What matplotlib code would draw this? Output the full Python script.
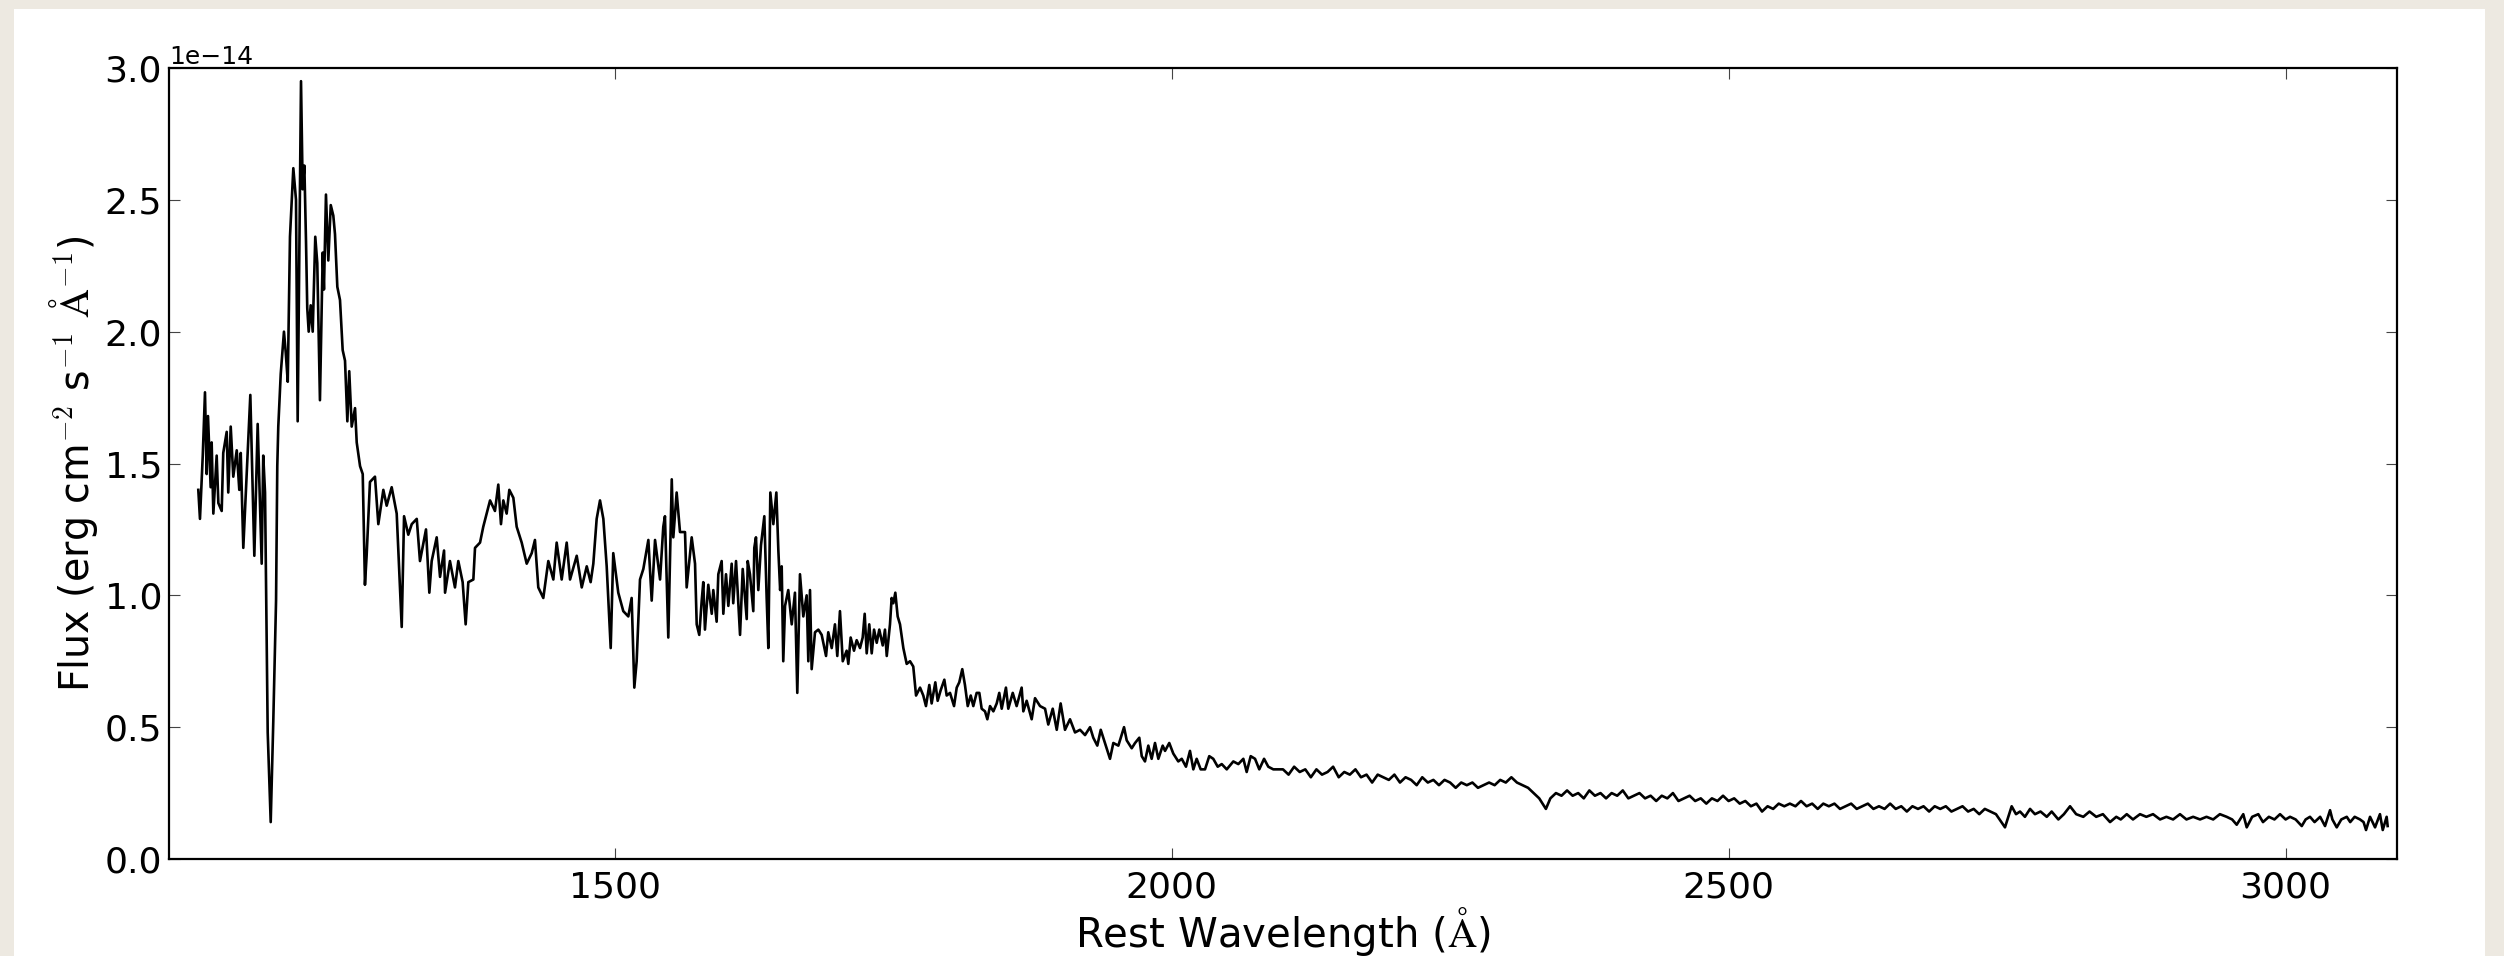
import numpy as np
import matplotlib.pyplot as plt
from matplotlib.patches import Rectangle

plt.rcParams['mathtext.fontset'] = 'cm'

# rest wavelength (Angstrom) and flux (units of 1e-14 erg/cm2/s/A)
wave = [
    1126.3, 1127.8, 1130.3, 1132.3, 1133.8, 1135.0, 1137.4, 1138.3, 1139.8, 1142.8,
    1144.3, 1147.3, 1148.7, 1151.8, 1153.2, 1155.4, 1157.7, 1160.8, 1163.1, 1164.4,
    1166.7, 1173.0, 1176.6, 1179.6, 1183.2, 1184.6, 1186.2, 1188.6, 1191.3, 1193.6,
    1196.1, 1197.2, 1198.1, 1200.3, 1203.2, 1204.8, 1206.6, 1208.6, 1211.6, 1214.0,
    1215.5, 1218.5, 1220.0, 1221.5, 1223.0, 1224.1, 1225.4, 1227.2, 1229.0, 1231.3,
    1233.1, 1235.5, 1238.0, 1239.1, 1240.9, 1243.0, 1245.2, 1247.5, 1249.0, 1251.1,
    1253.5, 1255.9, 1258.0, 1260.1, 1261.8, 1264.0, 1267.0, 1268.5, 1271.5, 1273.9,
    1275.9, 1277.4, 1280.4, 1284.9, 1287.9, 1292.4, 1295.4, 1299.9, 1304.4, 1308.9,
    1311.0, 1314.8, 1317.9, 1322.4, 1325.3, 1330.7, 1333.7, 1335.8, 1340.3, 1343.3,
    1346.9, 1347.8, 1352.2, 1356.7, 1359.7, 1363.6, 1366.3, 1368.7, 1373.2, 1374.7,
    1379.2, 1382.1, 1388.2, 1392.6, 1395.6, 1398.0, 1400.1, 1403.1, 1405.5, 1409.1,
    1412.1, 1416.6, 1421.1, 1425.6, 1428.5, 1431.5, 1436.0, 1440.5, 1445.0, 1448.0,
    1452.5, 1457.0, 1460.0, 1466.0, 1470.5, 1475.0, 1478.5, 1480.9, 1483.9, 1486.9,
    1489.9, 1492.9, 1496.5, 1498.8, 1503.3, 1507.8, 1512.3, 1515.3, 1517.7, 1519.8,
    1522.8, 1525.8, 1530.3, 1533.3, 1536.3, 1540.8, 1543.7, 1545.2, 1548.2, 1551.3,
    1552.7, 1555.7, 1558.7, 1563.2, 1564.7, 1569.2, 1572.2, 1573.7, 1576.0, 1578.2,
    1579.6, 1581.1, 1584.1, 1587.2, 1588.6, 1591.6, 1593.1, 1596.1, 1597.6, 1600.0,
    1602.1, 1605.1, 1606.5, 1609.0, 1612.6, 1615.0, 1618.6, 1619.5, 1621.5, 1624.5,
    1625.4, 1626.9, 1629.0, 1631.4, 1634.4, 1636.5, 1638.0, 1639.8, 1642.5, 1645.2,
    1647.0, 1648.6, 1650.0, 1651.4, 1653.0, 1655.9, 1659.0, 1661.9, 1664.0, 1666.4,
    1669.4, 1672.4, 1673.9, 1675.4, 1676.9, 1679.9, 1682.9, 1685.9, 1689.8, 1691.8,
    1694.9, 1697.8, 1699.9, 1702.3, 1704.8, 1708.3, 1709.8, 1711.9, 1714.9, 1717.3,
    1720.3, 1722.7, 1724.5, 1726.3, 1728.6, 1730.8, 1732.9, 1735.3, 1737.6, 1740.7,
    1742.7, 1744.3, 1747.2, 1748.7, 1750.2, 1752.0, 1754.1, 1756.2, 1759.2, 1762.2,
    1765.2, 1768.1, 1770.6, 1774.2, 1777.1, 1779.5, 1782.5, 1784.6, 1787.9, 1790.0,
    1792.7, 1796.0, 1798.1, 1801.1, 1804.7, 1807.1, 1809.4, 1812.1, 1814.5, 1817.0,
    1819.7, 1822.0, 1825.0, 1827.4, 1829.5, 1832.5, 1834.6, 1837.0, 1840.0, 1843.0,
    1845.3, 1847.5, 1851.3, 1853.4, 1857.4, 1860.9, 1865.4, 1866.9, 1869.9, 1874.4,
    1877.4, 1881.9, 1886.4, 1889.3, 1893.3, 1896.9, 1900.4, 1904.3, 1908.8, 1913.3,
    1917.8, 1922.3, 1926.8, 1929.7, 1933.3, 1936.4, 1940.2, 1944.7, 1947.7, 1952.2,
    1957.3, 1959.7, 1964.2, 1967.2, 1971.0, 1973.2, 1976.1, 1979.1, 1982.1, 1985.1,
    1988.1, 1992.0, 1994.1, 1997.9, 2001.5, 2006.0, 2009.1, 2012.9, 2016.5, 2019.5,
    2022.5, 2026.1, 2030.0, 2033.8, 2037.4, 2041.4, 2045.0, 2049.5, 2055.4, 2059.9,
    2064.4, 2067.4, 2071.0, 2074.9, 2078.7, 2083.0, 2086.8, 2091.3, 2095.5,
    2100, 2105, 2110, 2115, 2120, 2125, 2130, 2135, 2140, 2145,
    2150, 2155, 2160, 2165, 2170, 2175, 2180, 2185, 2190, 2195,
    2200, 2205, 2210, 2215, 2220, 2225, 2230, 2235, 2240, 2245,
    2250, 2255, 2260, 2265, 2270, 2275, 2280, 2285, 2290, 2295,
    2300, 2305, 2310, 2315, 2320, 2325, 2330, 2336, 2340, 2345,
    2350, 2355, 2360, 2365, 2370, 2375, 2380, 2385, 2390, 2395,
    2400, 2405, 2410, 2415, 2420, 2425, 2430, 2435, 2440, 2445,
    2450, 2455, 2460, 2465, 2470, 2475, 2480, 2485, 2490, 2495,
    2500, 2505, 2510, 2515, 2520, 2525, 2530, 2535, 2540, 2545,
    2550, 2555, 2560, 2565, 2570, 2575, 2580, 2585, 2590, 2595,
    2600, 2605, 2610, 2615, 2620, 2625, 2630, 2635, 2640, 2645,
    2650, 2655, 2660, 2665, 2670, 2675, 2680, 2685, 2690, 2695,
    2700, 2705, 2710, 2715, 2720, 2725, 2730, 2735, 2740,
    2743.6, 2748.1, 2754.1, 2758.0, 2761.6, 2766.0, 2770.6, 2775.0, 2780.0, 2785.6,
    2790.0, 2796.0, 2801.0, 2806.5, 2812.0, 2818.4, 2824.0, 2830.0, 2836.0, 2842.4,
    2848.0, 2852.0, 2857.4, 2863.0, 2869.3, 2875.0, 2881.0, 2887.3, 2893.0, 2899.0,
    2905.2, 2911.0, 2917.0, 2923.2, 2929.0, 2935.0, 2941.0, 2947.1, 2952.0, 2956.1,
    2962.0, 2965.1, 2970.0, 2975.5, 2979.7, 2985.0, 2990.0, 2995.0, 3000.0, 3004.0,
    3009.0, 3014.5, 3018.0, 3021.9, 3026.0, 3031.0, 3035.4, 3039.9, 3042.0, 3045.9,
    3050.0, 3054.9, 3058.0, 3062.0, 3066.8, 3070.0, 3072.2, 3075.8, 3078.0, 3080.3,
    3084.7, 3087.2, 3090.7, 3091.6,
]
flux = [
    1.40, 1.29, 1.53, 1.77, 1.46, 1.68, 1.41, 1.58, 1.31, 1.53,
    1.35, 1.32, 1.54, 1.62, 1.39, 1.64, 1.45, 1.55, 1.40, 1.54,
    1.18, 1.76, 1.15, 1.65, 1.12, 1.53, 1.39, 0.48, 0.14, 0.52,
    0.98, 1.49, 1.64, 1.84, 2.00, 1.92, 1.81, 2.36, 2.62, 2.50,
    1.66, 2.95, 2.54, 2.63, 2.34, 2.09, 2.00, 2.10, 2.00, 2.36,
    2.26, 1.74, 2.30, 2.16, 2.52, 2.27, 2.48, 2.44, 2.37, 2.17,
    2.12, 1.93, 1.89, 1.66, 1.85, 1.64, 1.71, 1.58, 1.49, 1.46,
    1.04, 1.15, 1.43, 1.45, 1.27, 1.40, 1.34, 1.41, 1.31, 0.88,
    1.30, 1.23, 1.27, 1.29, 1.13, 1.25, 1.01, 1.13, 1.22, 1.07,
    1.17, 1.01, 1.13, 1.03, 1.13, 1.05, 0.89, 1.05, 1.06, 1.18,
    1.20, 1.26, 1.36, 1.32, 1.42, 1.27, 1.36, 1.31, 1.40, 1.37,
    1.26, 1.20, 1.12, 1.16, 1.21, 1.03, 0.99, 1.13, 1.06, 1.20,
    1.06, 1.20, 1.06, 1.15, 1.03, 1.11, 1.05, 1.12, 1.29, 1.36,
    1.29, 1.11, 0.80, 1.16, 1.01, 0.94, 0.92, 0.99, 0.65, 0.75,
    1.06, 1.10, 1.21, 0.98, 1.21, 1.06, 1.26, 1.30, 0.84, 1.44,
    1.22, 1.39, 1.24, 1.24, 1.03, 1.22, 1.12, 0.89, 0.85, 0.98,
    1.05, 0.87, 1.04, 0.93, 1.02, 0.90, 1.08, 1.13, 0.93, 1.08,
    0.96, 1.12, 0.97, 1.13, 0.85, 1.10, 0.91, 1.13, 1.08, 0.94,
    1.18, 1.22, 1.02, 1.19, 1.30, 0.99, 0.80, 1.39, 1.27, 1.39,
    1.17, 1.02, 1.11, 0.75, 0.96, 1.02, 0.89, 1.01, 0.63, 1.08,
    0.92, 1.00, 0.75, 1.02, 0.72, 0.86, 0.87, 0.85, 0.77, 0.86,
    0.80, 0.89, 0.77, 0.94, 0.75, 0.79, 0.74, 0.84, 0.79, 0.83,
    0.80, 0.84, 0.93, 0.78, 0.89, 0.78, 0.87, 0.82, 0.87, 0.81,
    0.87, 0.77, 0.89, 0.99, 0.97, 1.01, 0.92, 0.89, 0.80, 0.74,
    0.75, 0.73, 0.62, 0.65, 0.62, 0.58, 0.66, 0.59, 0.67, 0.60,
    0.64, 0.68, 0.62, 0.63, 0.58, 0.65, 0.67, 0.72, 0.66, 0.58,
    0.62, 0.58, 0.63, 0.63, 0.57, 0.56, 0.53, 0.58, 0.56, 0.59,
    0.63, 0.57, 0.65, 0.57, 0.63, 0.58, 0.65, 0.56, 0.60, 0.53,
    0.61, 0.58, 0.57, 0.51, 0.57, 0.49, 0.59, 0.49, 0.53, 0.48,
    0.49, 0.47, 0.50, 0.46, 0.43, 0.49, 0.44, 0.38, 0.44, 0.43,
    0.50, 0.45, 0.42, 0.44, 0.46, 0.39, 0.37, 0.43, 0.38, 0.44,
    0.38, 0.43, 0.41, 0.44, 0.40, 0.37, 0.38, 0.35, 0.41, 0.34,
    0.38, 0.34, 0.34, 0.39, 0.38, 0.35, 0.36, 0.34, 0.37, 0.36,
    0.38, 0.33, 0.39, 0.38, 0.34, 0.38, 0.35, 0.34, 0.34,
    0.34, 0.32, 0.35, 0.33, 0.34, 0.31, 0.34, 0.32, 0.33, 0.35,
    0.31, 0.33, 0.32, 0.34, 0.31, 0.32, 0.29, 0.32, 0.31, 0.30,
    0.32, 0.29, 0.31, 0.30, 0.28, 0.31, 0.29, 0.30, 0.28, 0.30,
    0.29, 0.27, 0.29, 0.28, 0.29, 0.27, 0.28, 0.29, 0.28, 0.30,
    0.29, 0.31, 0.29, 0.28, 0.27, 0.25, 0.23, 0.19, 0.23, 0.25,
    0.24, 0.26, 0.24, 0.25, 0.23, 0.26, 0.24, 0.25, 0.23, 0.25,
    0.24, 0.26, 0.23, 0.24, 0.25, 0.23, 0.24, 0.22, 0.24, 0.23,
    0.25, 0.22, 0.23, 0.24, 0.22, 0.23, 0.21, 0.23, 0.22, 0.24,
    0.22, 0.23, 0.21, 0.22, 0.20, 0.21, 0.18, 0.20, 0.19, 0.21,
    0.20, 0.21, 0.20, 0.22, 0.20, 0.21, 0.19, 0.21, 0.20, 0.21,
    0.19, 0.20, 0.21, 0.19, 0.20, 0.21, 0.19, 0.20, 0.19, 0.21,
    0.19, 0.20, 0.18, 0.20, 0.19, 0.20, 0.18, 0.20, 0.19, 0.20,
    0.18, 0.19, 0.20, 0.18, 0.19, 0.17, 0.19, 0.18, 0.17,
    0.148, 0.12, 0.20, 0.17, 0.18, 0.16, 0.19, 0.17, 0.18, 0.16,
    0.18, 0.15, 0.17, 0.20, 0.17, 0.16, 0.18, 0.16, 0.17, 0.14,
    0.16, 0.15, 0.17, 0.15, 0.17, 0.16, 0.17, 0.15, 0.16, 0.15,
    0.17, 0.15, 0.16, 0.15, 0.16, 0.15, 0.17, 0.16, 0.15, 0.13,
    0.17, 0.12, 0.16, 0.17, 0.14, 0.16, 0.15, 0.17, 0.15, 0.16,
    0.15, 0.125, 0.15, 0.16, 0.14, 0.16, 0.125, 0.185, 0.15, 0.12,
    0.15, 0.16, 0.14, 0.16, 0.15, 0.14, 0.11, 0.16, 0.14, 0.12,
    0.17, 0.11, 0.16, 0.125,
]

x_ticks = [1500, 2000, 2500, 3000]
y_ticks = [0.0, 0.5, 1.0, 1.5, 2.0, 2.5, 3.0]

fig = plt.figure(figsize=(25.04, 9.56), dpi=100, facecolor='#ede9e1')
# white page the plot sits on
fig.patches.append(Rectangle((14 / 2504, 0), 2471 / 2504, 947 / 956,
                             transform=fig.transFigure, facecolor='white',
                             edgecolor='none', zorder=-10))

ax = fig.add_axes([169 / 2504, 97 / 956, 2228 / 2504, 791 / 956])
ax.plot(wave, np.array(flux) * 1e-14, color='black', lw=1.9)

ax.set_xlim(1100, 3100)
ax.set_ylim(0, 3.0e-14)
ax.set_xticks(x_ticks)
ax.set_yticks(np.array(y_ticks) * 1e-14)
ax.tick_params(direction='in', top=True, right=True, length=8, width=0.8,
               labelsize=26, pad=8, color='#444444')
ax.tick_params(axis='y', pad=5)
ax.yaxis.get_offset_text().set_fontsize(18)
for s in ax.spines.values():
    s.set_linewidth(1.6)

ax.set_xlabel(r'Rest Wavelength ($\mathrm{\AA}$)', fontsize=29, labelpad=1)
ax.set_ylabel(r'Flux (erg cm$^{-2}$ s$^{-1}$ $\mathrm{\AA}^{-1}$)', fontsize=28.5)
ax.yaxis.set_label_coords(-0.031, 0.5)

fig.savefig('out.png', dpi=100, facecolor=fig.get_facecolor())
